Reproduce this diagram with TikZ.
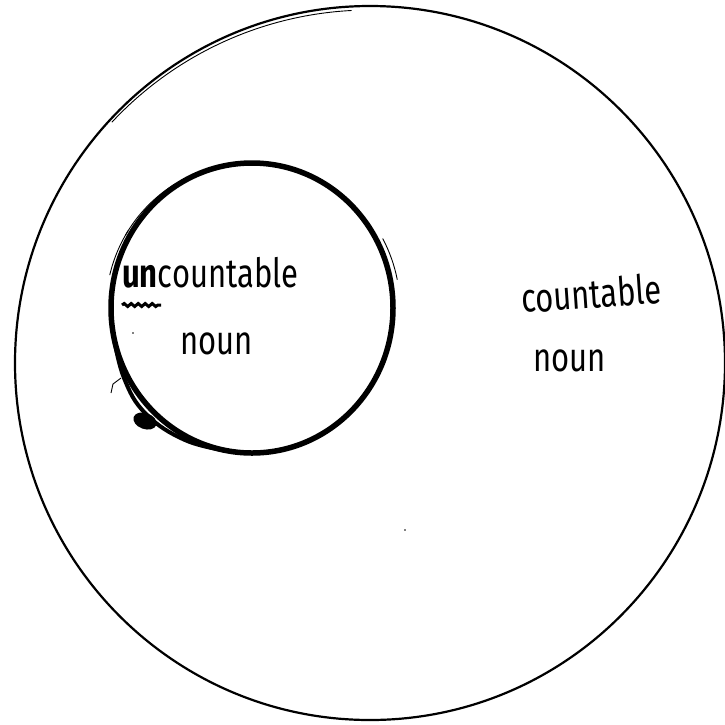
\documentclass[tikz,border=0pt]{standalone}
\usepackage{fontspec}
\usepackage{graphicx}
\setmainfont{Fira Sans}
\usetikzlibrary{decorations.pathmorphing}
\newcommand{\tallhand}[1]{\scalebox{1}[1.3]{#1}}
\begin{document}
\begin{tikzpicture}[x=1pt,y=-1pt,
  hand/.style={font=\fontsize{31}{36}\selectfont, inner sep=0pt, anchor=base west},
  bigring/.style={draw=black, line width=2.2pt},
  smallring/.style={draw=black, line width=5.5pt},
  sketch/.style={draw=black, line width=0.9pt}]
\useasboundingbox[fill=white] (0,0) rectangle (725,724);
% outer circle
\draw[bigring] (370,363) ellipse [x radius=355, y radius=357];
\draw[sketch] (370,363) ++(223:353) arc[start angle=223, end angle=267, radius=353];
% inner circle
\draw[smallring] (252,308) ellipse [x radius=141, y radius=145];
\draw[smallring, line width=4pt, line cap=round] plot[smooth, tension=0.7] coordinates
  {(227.5,450.8) (185,440) (146,414) (124,378) (113,333)};
\draw[sketch] (252,308) ++(210:146) arc[start angle=210, end angle=238, radius=146];
\draw[sketch] (252,308) ++(193:146) arc[start angle=193, end angle=212, radius=146];
\draw[sketch] (252,308) ++(332:148) arc[start angle=332, end angle=349, radius=148];
\fill[black, rotate around={-20:(145,421)}] (145,421) ellipse [x radius=12, y radius=8];
\draw[sketch] (121,378) -- (113,384) -- (111,393);
\fill[black] (405,530) circle (0.8);
\fill[black] (133,333) circle (0.9);
% texts
\node[hand] (unc) at (122,287) {\tallhand{\textbf{un}countable}};
\draw[line width=3pt, decorate, decoration={snake, amplitude=1.5pt, segment length=7pt}] (122,305) -- (161,305);
\node[hand] (inoun) at (180,354) {\tallhand{noun}};
\node[hand, rotate=4] (cnt) at (522,313) {\tallhand{countable}};
\node[hand] (onoun) at (533,371) {\tallhand{noun}};
\end{tikzpicture}
\end{document}
